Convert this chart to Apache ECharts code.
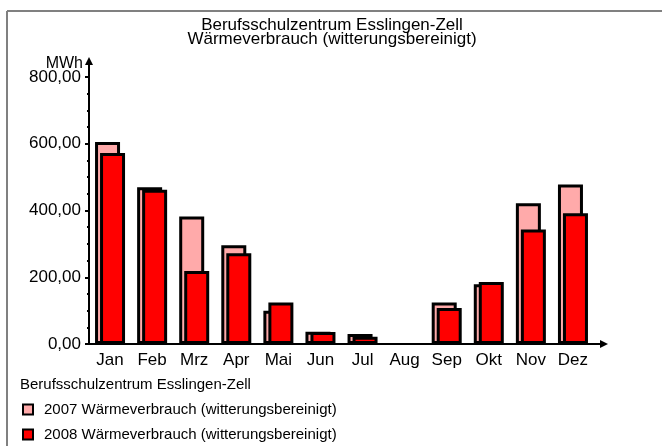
<!DOCTYPE html>
<html>
<head>
<meta charset="utf-8">
<script src="https://cdn.jsdelivr.net/npm/echarts@6/dist/echarts.min.js"></script>
<style>
  html, body { margin: 0; padding: 0; background: #fff; }
  #main { width: 662px; height: 446px; }
</style>
</head>
<body>
<div id="main"></div>
<script>
// Daten
const months = ['Jan', 'Feb', 'Mrz', 'Apr', 'Mai', 'Jun', 'Jul', 'Aug', 'Sep', 'Okt', 'Nov', 'Dez']
// August: kein Balken im Original
const waerme2007 = [605, 470, 382, 296, 100, 37, 30, null, 124, 179, 422, 478]
const waerme2008 = [572, 462, 219, 272, 124, 36, 22, null, 108, 186, 343, 392]
const yMin = 0
const yMax = 800
const yStep = 200

const font = "'Liberation Sans', Arial, sans-serif"

var chart = echarts.init(document.getElementById('main'))

chart.setOption({
    animation: false,
    backgroundColor: '#fff',
    title: {
        text: 'Berufsschulzentrum Esslingen-Zell\nWärmeverbrauch (witterungsbereinigt)',
        left: 327,
        top: 13,
        textAlign: 'center',
        textStyle: { fontFamily: font, fontSize: 17, fontWeight: 'normal', color: '#000', lineHeight: 14 }
    },
    legend: {
        orient: 'vertical',
        left: 22,
        top: 402,
        height: 44,
        padding: 0,
        icon: 'rect',
        itemWidth: 10,
        itemHeight: 10,
        itemGap: 10,
        itemStyle: { borderWidth: 2 },
        textStyle: { fontFamily: font, fontSize: 15, color: '#000', lineHeight: 14, padding: [0, 0, 0, 6] },
        data: ['2007 Wärmeverbrauch (witterungsbereinigt)', '2008 Wärmeverbrauch (witterungsbereinigt)']
    },
    grid: { left: 89, right: 68, top: 77, bottom: 102, containLabel: false },
    xAxis: {
        type: 'category',
        data: months,
        axisLine: { lineStyle: { color: '#000', width: 2 } },
        axisTick: { alignWithLabel: true, length: 3, lineStyle: { color: '#000', width: 2 } },
        axisLabel: { fontFamily: font, fontSize: 17, color: '#000', margin: 8 },
        splitLine: { show: false }
    },
    yAxis: {
        type: 'value',
        min: yMin,
        max: yMax,
        interval: yStep,
        axisLine: { show: true, lineStyle: { color: '#000', width: 2 } },
        axisTick: { show: true, length: 4, lineStyle: { color: '#000', width: 2 } },
        minorTick: { show: true, splitNumber: 4, length: 2, lineStyle: { color: '#000', width: 2 } },
        axisLabel: {
            fontFamily: font, fontSize: 17, color: '#000', margin: 8,
            formatter: v => v.toFixed(2).replace('.', ',')
        },
        splitLine: { show: false }
    },
    series: [
        {
            name: '2007 Wärmeverbrauch (witterungsbereinigt)',
            type: 'bar',
            data: waerme2007,
            barWidth: 25,
            barGap: '-80%',
            itemStyle: { color: '#ffaaaa', borderColor: '#000', borderWidth: 3 }
        },
        {
            name: '2008 Wärmeverbrauch (witterungsbereinigt)',
            type: 'bar',
            data: waerme2008,
            barWidth: 25,
            barGap: '-80%',
            itemStyle: { color: '#ff0000', borderColor: '#000', borderWidth: 3 }
        }
    ],
    graphic: [
        // Rahmen
        { type: 'line', shape: { x1: 7, y1: 11, x2: 662, y2: 11 }, style: { stroke: '#808080', lineWidth: 2 } },
        { type: 'line', shape: { x1: 7, y1: 11, x2: 7, y2: 446 }, style: { stroke: '#808080', lineWidth: 2 } },
        // Achsenpfeile
        { type: 'line', shape: { x1: 89, y1: 78, x2: 89, y2: 62 }, style: { stroke: '#000', lineWidth: 2 } },
        { type: 'polygon', shape: { points: [[89, 57], [85, 65], [93, 65]] }, style: { fill: '#000' } },
        { type: 'line', shape: { x1: 593, y1: 344, x2: 602, y2: 344 }, style: { stroke: '#000', lineWidth: 2 } },
        { type: 'polygon', shape: { points: [[608, 344], [600, 340], [600, 348]] }, style: { fill: '#000' } },
        // Einheit
        { type: 'text', x: 83, y: 64, style: { text: 'MWh', font: '16px ' + font, fill: '#000', textAlign: 'right', textVerticalAlign: 'middle' } },
        // Legendenkopf
        { type: 'text', x: 20, y: 385, style: { text: 'Berufsschulzentrum Esslingen-Zell', font: '15px ' + font, fill: '#000', textAlign: 'left', textVerticalAlign: 'middle' } }
    ]
})
</script>
</body>
</html>
